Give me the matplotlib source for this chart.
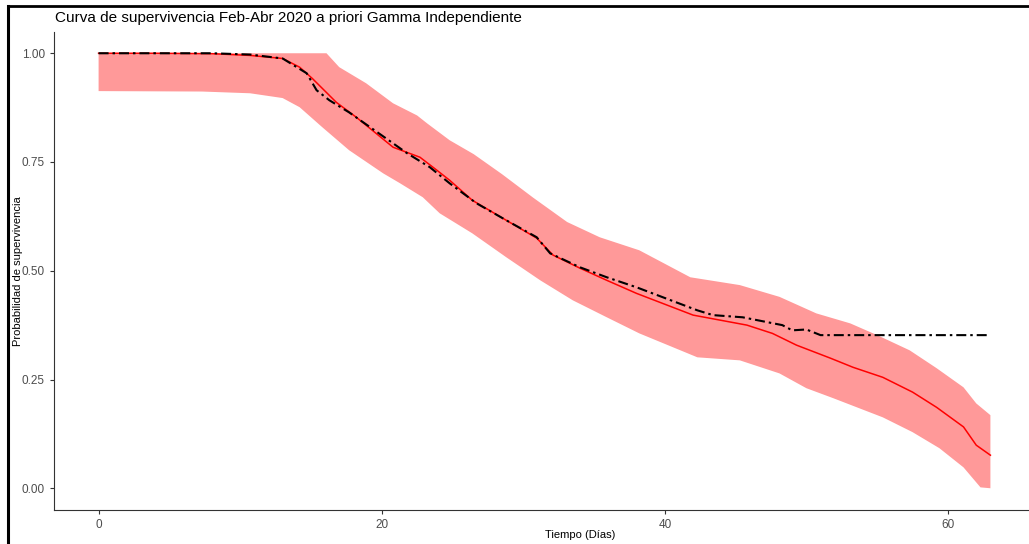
import matplotlib.pyplot as plt
import matplotlib.lines as mlines
import numpy as np

plt.rcParams['font.family'] = ['Liberation Sans', 'DejaVu Sans']

# posterior mean survival (Gamma independent prior)
t_post = [0, 4, 8, 10.7, 13.0, 14.2, 15.1, 16.8, 18.2, 20.8, 22.7, 23.9, 24.8, 26.4,
          28.8, 30.95, 32.1, 34.0, 35.9, 38.0, 42, 45.8, 47.6, 49.3, 51.7, 53.3,
          55.4, 57.5, 59.2, 61.1, 62.0, 63]
s_post = [1.0, 1.0, 0.999, 0.995, 0.988, 0.968, 0.942, 0.887, 0.853, 0.784, 0.761,
          0.731, 0.708, 0.662, 0.616, 0.575, 0.536, 0.506, 0.478, 0.448, 0.398,
          0.375, 0.356, 0.329, 0.299, 0.278, 0.255, 0.221, 0.186, 0.141, 0.099, 0.076]

# Kaplan-Meier estimate
t_km = [0, 8, 10.7, 13.0, 14.7, 15.4, 16.3, 17.7, 20.8, 21.8, 23.4, 24.8, 26.7,
        28.8, 30.95, 31.9, 34.0, 35.9, 38.0, 42.3, 43.4, 45.5, 48.3, 49.0, 50.0,
        51.0, 63]
s_km = [1.0, 1.0, 0.997, 0.988, 0.954, 0.915, 0.892, 0.864, 0.793, 0.77, 0.738,
        0.701, 0.655, 0.616, 0.577, 0.54, 0.508, 0.485, 0.462, 0.409, 0.398, 0.393,
        0.375, 0.363, 0.365, 0.352, 0.352]

# credible band limits
t_up = [0, 16.1, 17.0, 18.9, 20.8, 22.5, 23.2, 24.8, 26.5, 28.5, 30.7, 33.1, 35.4,
        38.2, 41.8, 45.3, 48.1, 50.7, 53.1, 55, 57.3, 59.2, 61.1, 62, 63]
s_up = [1.0, 1.0, 0.968, 0.931, 0.885, 0.857, 0.839, 0.800, 0.768, 0.722, 0.668,
        0.612, 0.577, 0.547, 0.485, 0.467, 0.44, 0.402, 0.379, 0.352, 0.317, 0.276,
        0.232, 0.195, 0.168]
t_lo = [0, 7.3, 10.7, 13.0, 14.2, 15.8, 17.7, 20.1, 21.3, 22.9, 24.1, 26.4, 28.8,
        31.2, 33.5, 35.9, 38.2, 42.3, 45.3, 48.1, 50, 51.9, 55.4, 57.5, 59.4, 61.1,
        62.3, 63]
s_lo = [0.913, 0.912, 0.908, 0.897, 0.876, 0.83, 0.777, 0.724, 0.701, 0.669, 0.632,
        0.586, 0.531, 0.478, 0.432, 0.393, 0.356, 0.301, 0.294, 0.264, 0.23, 0.207,
        0.163, 0.129, 0.092, 0.048, 0.002, 0.0]

x_ticks = [0, 20, 40, 60]
y_ticks = [0.00, 0.25, 0.50, 0.75, 1.00]

fig = plt.figure(figsize=(10.29, 5.44), dpi=100)
ax = fig.add_axes([54 / 1029, 1 - 510 / 544, 981 / 1029, 478.5 / 544])

band_x = np.concatenate([t_up, t_lo[::-1]])
band_y = np.concatenate([s_up, s_lo[::-1]])
ax.fill(band_x, band_y, color='#FF9999', lw=0)
ax.plot(t_post, s_post, color='#FF0000', lw=1.1)
km_line, = ax.plot(t_km, s_km, color='black', lw=1.5)
km_line.set_dashes([4.8, 1.9, 1.2, 1.9])

ax.set_xlim(-3.15, 66.15)
ax.set_ylim(-0.05, 1.05)
ax.set_xticks(x_ticks)
ax.set_yticks(y_ticks)
ax.set_yticklabels([f'{v:.2f}' for v in y_ticks])
for s in ['top', 'right']:
    ax.spines[s].set_visible(False)
for s in ['left', 'bottom']:
    ax.spines[s].set_color('#333333')
    ax.spines[s].set_linewidth(0.8)
ax.tick_params(colors='#333333', labelcolor='#4D4D4D', labelsize=8.5,
               length=3, width=0.8)

ax.set_xlabel('Tiempo (Días)', fontsize=8, va='center')
ax.set_ylabel('Probabilidad de supervivencia', fontsize=8, va='center')
ax.xaxis.set_label_coords(526 / 981, -25 / 478.5)
ax.yaxis.set_label_coords(-36 / 981, 0.5)
fig.text(55 / 1029, 1 - 18 / 544, 'Curva de supervivencia Feb-Abr 2020 a priori Gamma Independiente',
         fontsize=11, va='center', ha='left')

# window frame
fig.add_artist(mlines.Line2D([8 / 1029, 1], [1 - 6 / 544] * 2, color='black', lw=2,
                            transform=fig.transFigure))
fig.add_artist(mlines.Line2D([8 / 1029] * 2, [0, 1 - 6 / 544], color='black', lw=2.2,
                            transform=fig.transFigure))

fig.savefig('out.png', dpi=100)
